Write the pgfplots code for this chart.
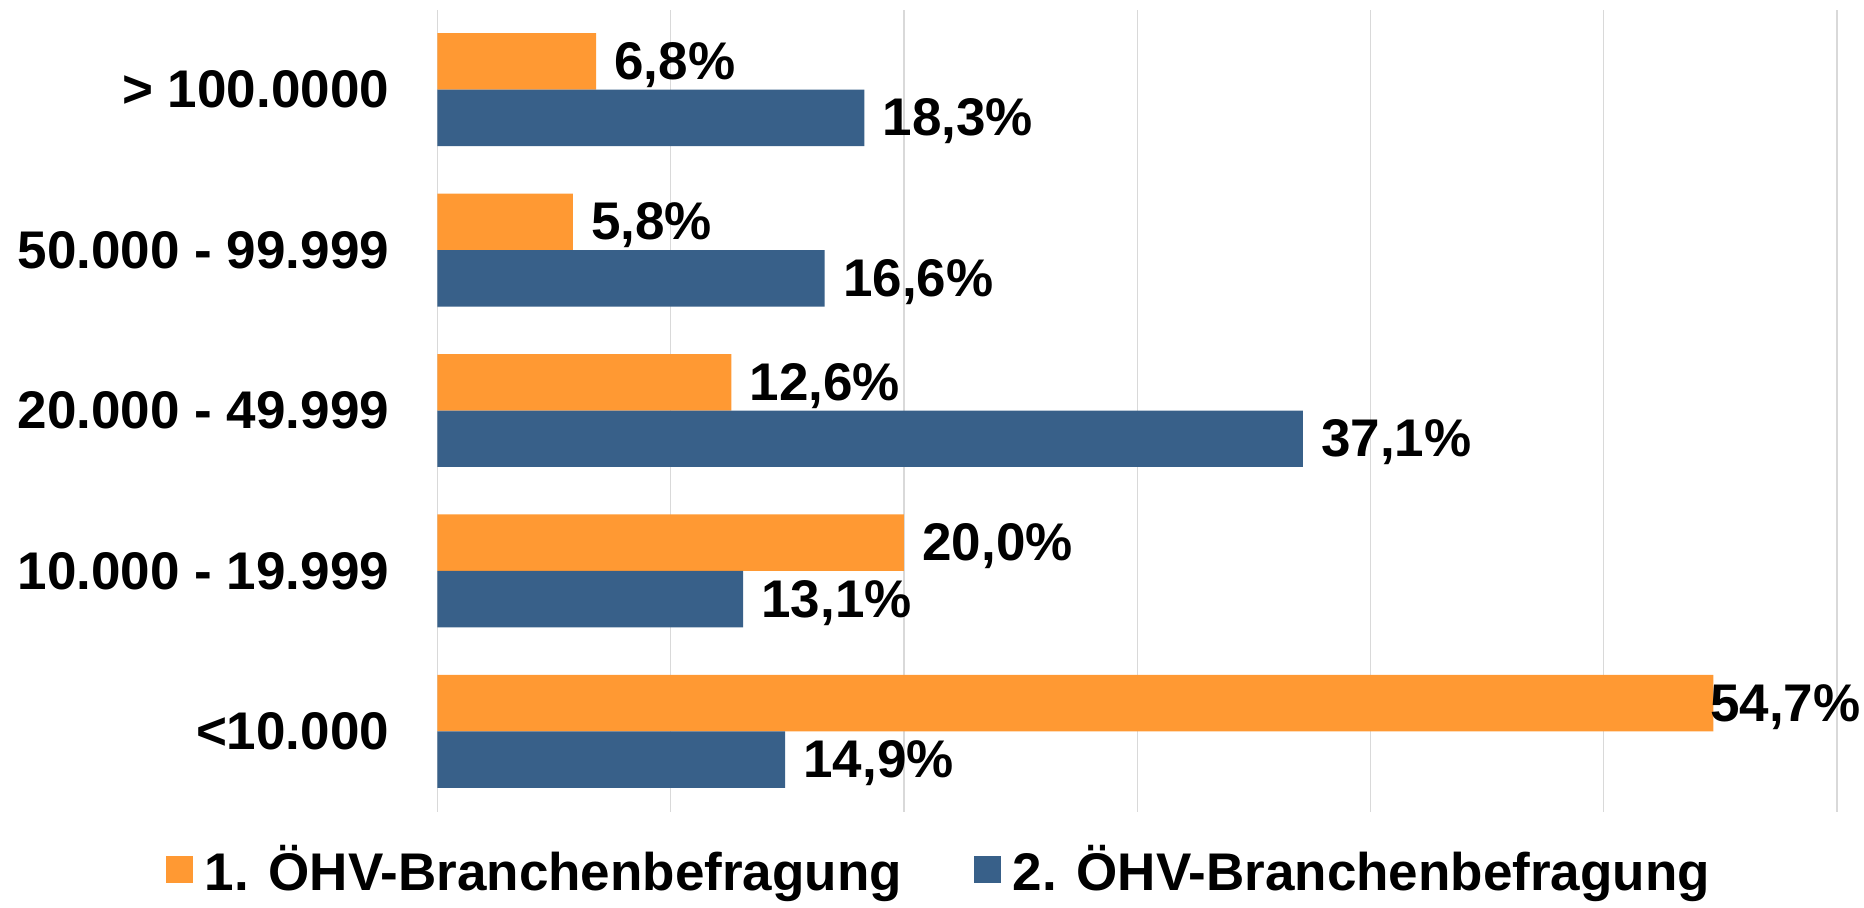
\documentclass[border=0pt]{standalone}
\usepackage{pgfplots}
\pgfplotsset{compat=1.18}
\usepackage{pgfplotstable}
\usepackage{fontspec}
\setmainfont{Liberation Sans}
\definecolor{orng}{RGB}{255,153,51}
\definecolor{blu}{RGB}{56,96,137}
\pgfplotstableread{
y val off
0 54.7 -1.8
1 20.0 9
2 12.6 9
3 5.8 9
4 6.8 9
}\first
\pgfplotstableread{
y val off
0 14.9 9
1 13.1 9
2 37.1 9
3 16.6 9
4 18.3 9
}\second
\begin{document}
\begin{tikzpicture}
\path[use as bounding box] (-218.75pt,-47.75pt) rectangle (713.25pt,405.75pt);
\begin{axis}[
 scale only axis, width=699.75pt, height=401pt,
 xbar, xmin=0, xmax=60, ymin=-0.5, ymax=4.5,
 bar width=0.352,
 xtick={0,10,...,60}, xticklabels={},
 xmajorgrids, grid style={draw=black!15, line width=0.6pt},
 ytick={0,1,2,3,4},
 yticklabels={<10.000,10.000 - 19.999,20.000 - 49.999,50.000 - 99.999,> 100.0000},
 axis line style={draw=none}, major tick length=0pt,
 y tick label style={font=\fontsize{26.5}{30}\selectfont\bfseries, inner sep=0pt, xshift=-24pt, anchor=east},
 /pgf/number format/assume math mode=true,
 /pgf/number format/use comma, /pgf/number format/fixed, /pgf/number format/fixed zerofill, /pgf/number format/precision=1,
 nodes near coords={\pgfmathprintnumber{\pgfplotspointmeta}\%},
 nodes near coords style={font=\fontsize{26.5}{30}\selectfont\bfseries, anchor=west, inner sep=0pt, text=black, yshift=-1.8pt},
 visualization depends on={\thisrow{off}\as\off},
 every node near coord/.append style={xshift=\off pt},
 legend style={draw=none, fill=none, at={(0.359,-0.072)}, anchor=center, legend columns=2,
   font=\fontsize{26.5}{30}\selectfont\bfseries,
   /tikz/every even column/.append style={column sep=34pt},
   /tikz/every odd column/.append style={column sep=4pt}},
 legend image code/.code={\fill[#1] (0pt,-6.75pt) rectangle (13.5pt,6.75pt);},
]
\addplot[fill=orng, draw=none, bar shift=0.176] table[x=val, y=y] {\first};
\addplot[fill=blu, draw=none, bar shift=-0.176] table[x=val, y=y] {\second};
\legend{1. ÖHV-Branchenbefragung,2. ÖHV-Branchenbefragung}
\end{axis}
\end{tikzpicture}
\end{document}
